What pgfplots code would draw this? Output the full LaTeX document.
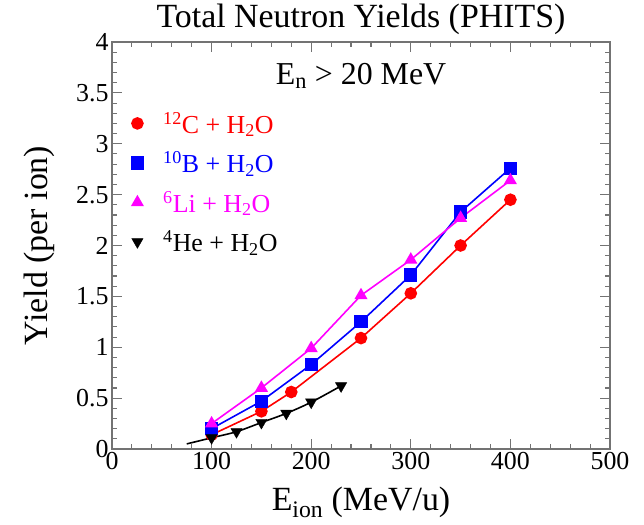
\documentclass[border=0pt]{standalone}
\usepackage{fontspec}
\setmainfont{Liberation Serif}
\usepackage{pgfplots}
\pgfplotsset{compat=1.18}
\definecolor{frame}{gray}{0.45}
\definecolor{mag}{RGB}{255,0,255}
\definecolor{rd}{RGB}{255,0,0}
\definecolor{bl}{RGB}{0,0,255}
\begin{document}
\begin{tikzpicture}
\begin{axis}[
  scale only axis,
  at={(0,0)}, anchor=south west,
  width=498bp, height=407bp,
  xmin=0, xmax=500, ymin=0, ymax=4,
  xtick={0,100,...,500},
  ytick={0,0.5,...,4},
  yticklabels={0,0.5,1,1.5,2,2.5,3,3.5,4},
  minor x tick num=4,
  minor y tick num=4,
  tick align=inside,
  major tick length=10bp,
  minor tick length=5bp,
  axis line style={frame, line width=1.3bp},
  every tick/.style={frame, line width=1.1bp},
  /pgf/number format/assume math mode=true,
  tick label style={font=\fontsize{26}{29}\selectfont, text=black},
  title={Total Neutron Yields (PHITS)},
  title style={at={(axis description cs:0.5,1.022)}, anchor=base, yshift=0pt, font=\fontsize{34}{37}\selectfont},
  xlabel={E\textsubscript{ion} (MeV/u)},
  xlabel style={at={(axis description cs:0.5,-0.150)}, anchor=base, font=\fontsize{34}{37}\selectfont},
  ylabel={Yield (per ion)},
  ylabel style={at={(axis description cs:-0.1305,0.5)}, anchor=base, font=\fontsize{34}{37}\selectfont},
  legend cell align=left,
  legend style={at={(axis description cs:0.039,0.833)}, anchor=north west, draw=none, fill=none,
    inner sep=0pt, row sep=13bp, column sep=18bp, font=\fontsize{26}{29}\selectfont},
  legend image code/.code={\draw[#1, /tikz/only marks] plot coordinates {(0cm,0cm)};},
]
\addplot[rd, line width=1.6bp, mark=*, mark size=5.5bp, mark options={solid, fill=rd, draw=rd}]
  coordinates {(100,0.14) (150,0.37) (180,0.56) (250,1.09) (300,1.53) (350,2.00) (400,2.45)};
\addlegendentry{\textcolor{rd}{\textsuperscript{12}C + H\textsubscript{2}O}}
\addplot[bl, line width=1.6bp, mark=square*, mark size=5.8bp, mark options={solid, fill=bl, draw=bl}]
  coordinates {(100,0.20) (150,0.47) (200,0.83) (250,1.25) (300,1.71) (350,2.33) (400,2.76)};
\addlegendentry{\textcolor{bl}{\textsuperscript{10}B + H\textsubscript{2}O}}
\addplot[mag, line width=1.6bp, mark=triangle*, mark size=6bp, mark options={solid, fill=mag, draw=mag}]
  coordinates {(100,0.25) (150,0.60) (200,0.99) (250,1.51) (300,1.86) (350,2.27) (400,2.64)};
\addlegendentry{\textcolor{mag}{\textsuperscript{6}Li + H\textsubscript{2}O}}
\addplot[black, line width=1.6bp, smooth, no marks, forget plot]
  coordinates {(75,0.05) (100,0.11) (125,0.17) (150,0.26) (175,0.35) (200,0.46) (230,0.62)};
\addplot[black, only marks, mark=triangle*, mark size=6.5bp, mark options={solid, fill=black, draw=black, rotate=180}]
  coordinates {(100,0.11) (125,0.17) (150,0.26) (175,0.35) (200,0.46) (230,0.62)};
\addlegendentry{\textcolor{black}{\textsuperscript{4}He + H\textsubscript{2}O}}
\node[anchor=base, font=\fontsize{32}{35}\selectfont] at (axis cs:250,3.58) {E\textsubscript{n} > 20 MeV};
\end{axis}
\pgfresetboundingbox
\path (-112bp,-76bp) rectangle (532bp,449bp);
\end{tikzpicture}
\end{document}
